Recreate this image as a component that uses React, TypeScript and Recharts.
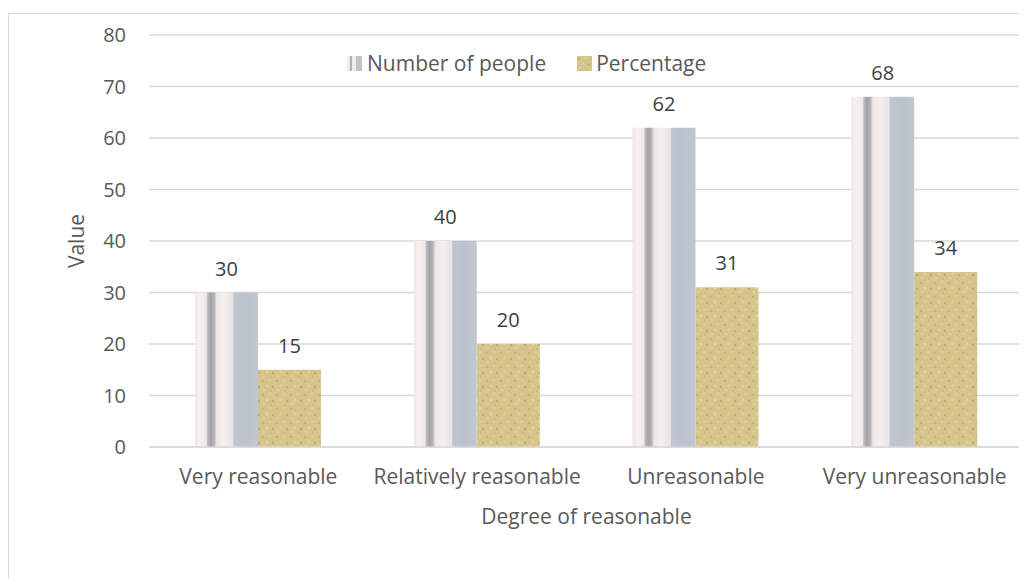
import React from 'react';
import {
  BarChart,
  Bar,
  XAxis,
  YAxis,
  CartesianGrid,
  LabelList,
} from 'recharts';

const categories = ['Very reasonable', 'Relatively reasonable', 'Unreasonable', 'Very unreasonable'];
const peopleValues = [30, 40, 62, 68];
const percentValues = [15, 20, 31, 34];
const yTicks = [0, 10, 20, 30, 40, 50, 60, 70, 80];

const data = categories.map((name, i) => ({
  name,
  people: peopleValues[i],
  percent: percentValues[i],
}));

const FONT = '"Open Sans", "Noto Sans", sans-serif';
const TEXT = '#595959';
const SIZE = 20;

// legend drawn as html over the plot so it takes no room from the chart
const LegendBox = () => (
  <div
    style={{
      position: 'absolute',
      left: 338,
      top: 35,
      display: 'flex',
      alignItems: 'center',
      fontFamily: FONT,
      fontSize: 21,
      color: TEXT,
      whiteSpace: 'nowrap',
    }}
  >
    <svg width={15} height={15} style={{ marginRight: 5 }}>
      <rect width={15} height={15} fill="url(#peopleFill)" />
    </svg>
    <span style={{ marginRight: 31 }}>Number of people</span>
    <svg width={15} height={15} style={{ marginRight: 4 }}>
      <rect width={15} height={15} fill="url(#sandFill)" />
    </svg>
    <span>Percentage</span>
  </div>
);

const App: React.FC = () => {
  return (
    <div
      style={{
        position: 'relative',
        marginTop: 5,
        width: 1019,
        height: 566,
        borderLeft: '1px solid #d9d9d9',
        borderTop: '1px solid #d9d9d9',
        boxSizing: 'border-box',
        background: '#fff',
      }}
    >
      <BarChart
        width={1018}
        height={565}
        data={data}
        margin={{ top: 21, right: 3, left: 0, bottom: 62 }}
        barSize={63}
        barGap={0}
      >
        <defs>
          <linearGradient id="peopleFill" x1="0" y1="0" x2="1" y2="0">
            <stop offset="0" stopColor="#eee8e7" />
            <stop offset="0.08" stopColor="#f6f1f0" />
            <stop offset="0.18" stopColor="#efeaea" />
            <stop offset="0.2" stopColor="#bdbdc0" />
            <stop offset="0.25" stopColor="#a2a2a6" />
            <stop offset="0.31" stopColor="#b9b9bc" />
            <stop offset="0.34" stopColor="#ece7e7" />
            <stop offset="0.45" stopColor="#f5f0ef" />
            <stop offset="0.6" stopColor="#e9e5e5" />
            <stop offset="0.62" stopColor="#bfc6d0" />
            <stop offset="0.8" stopColor="#bac2cd" />
            <stop offset="1" stopColor="#c0c7d1" />
          </linearGradient>
          <pattern id="sandFill" width="14" height="14" patternUnits="userSpaceOnUse">
            <rect width="14" height="14" fill="#d6c48b" />
            <circle cx="2" cy="3" r="1.3" fill="#c8b477" />
            <circle cx="9" cy="2" r="1" fill="#e2d5a5" />
            <circle cx="6" cy="8" r="1.4" fill="#dfd29d" />
            <circle cx="12" cy="9" r="1.2" fill="#c2ad6e" />
            <circle cx="3" cy="12" r="1" fill="#e4d8a9" />
            <circle cx="10" cy="13" r="0.9" fill="#cbb87c" />
          </pattern>
        </defs>
        <CartesianGrid horizontal vertical={false} stroke="#d9d9d9" strokeWidth={1.5} />
        <XAxis
          dataKey="name"
          height={70}
          axisLine={{ stroke: '#d9d9d9', strokeWidth: 1.5 }}
          tickLine={false}
          tick={{ fontFamily: FONT, fontSize: 21, fill: TEXT }}
          tickMargin={16}
          label={{
            value: 'Degree of reasonable',
            position: 'insideBottom',
            offset: -7,
            fontFamily: FONT,
            fontSize: 21,
            fill: TEXT,
          }}
        />
        <YAxis
          width={140}
          domain={[0, 80]}
          ticks={yTicks}
          axisLine={false}
          tickLine={false}
          tickSize={0}
          tickMargin={23}
          tick={{ fontFamily: FONT, fontSize: SIZE, fill: TEXT }}
          label={{
            value: 'Value',
            angle: -90,
            position: 'insideLeft',
            offset: 68,
            fontFamily: FONT,
            fontSize: 21,
            fill: TEXT,
            style: { textAnchor: 'middle' },
          }}
        />
        <Bar dataKey="people" name="Number of people" fill="url(#peopleFill)" isAnimationActive={false}>
          <LabelList
            dataKey="people"
            position="top"
            offset={17}
            style={{ fontFamily: FONT, fontSize: SIZE, fill: '#404040' }}
          />
        </Bar>
        <Bar dataKey="percent" name="Percentage" fill="url(#sandFill)" isAnimationActive={false}>
          <LabelList
            dataKey="percent"
            position="top"
            offset={17}
            style={{ fontFamily: FONT, fontSize: SIZE, fill: '#404040' }}
          />
        </Bar>
      </BarChart>
      <LegendBox />
    </div>
  );
};

export default App;
